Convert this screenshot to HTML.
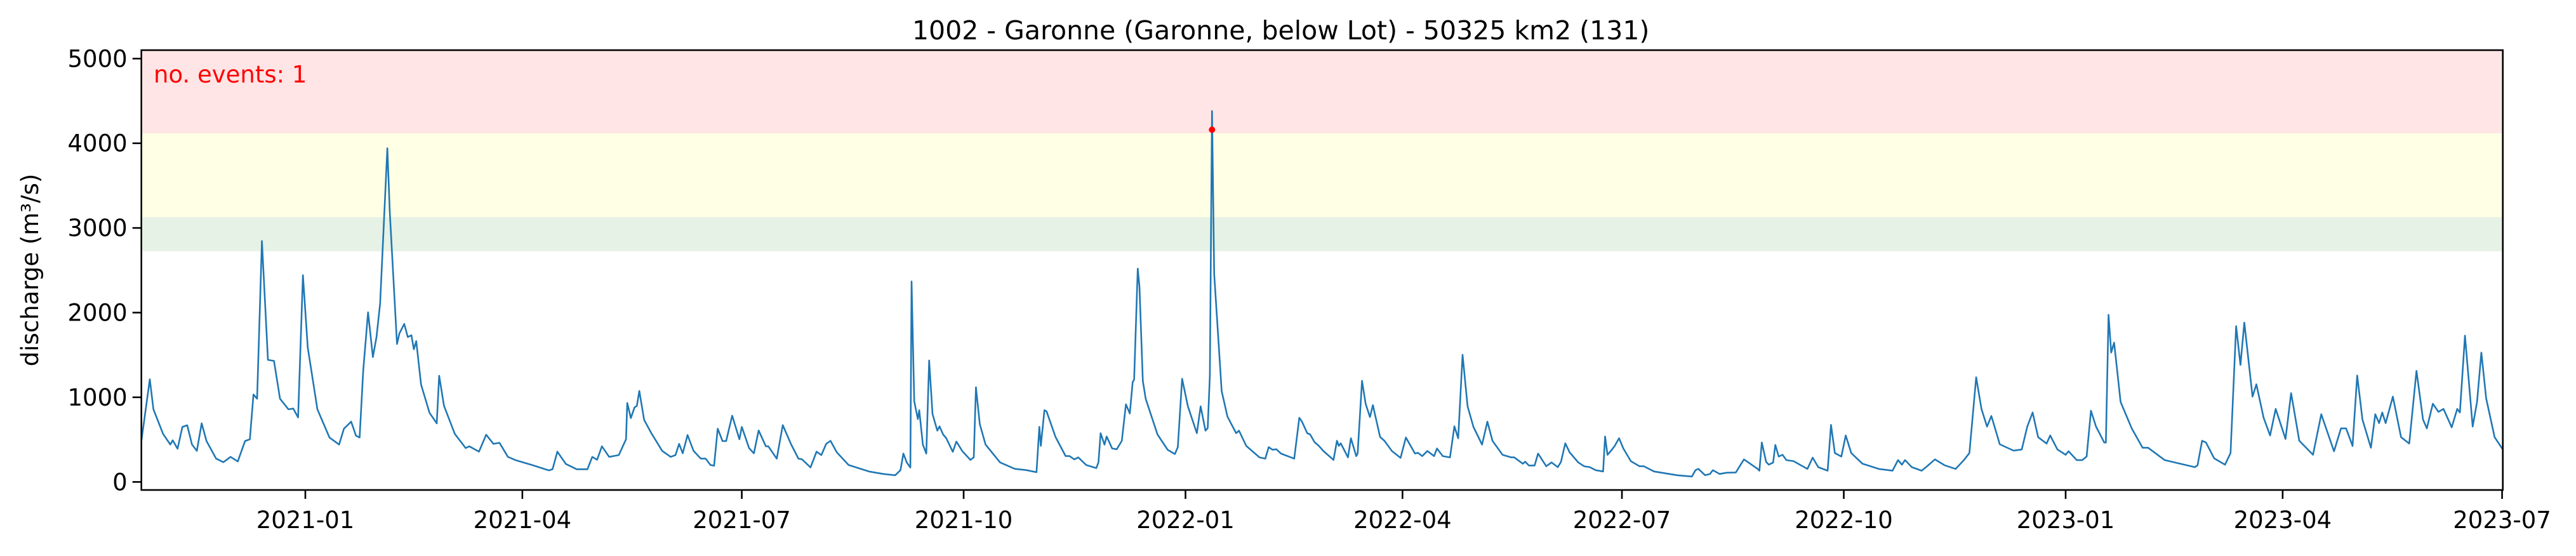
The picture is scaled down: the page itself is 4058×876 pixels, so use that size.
<!DOCTYPE html>
<html><head><meta charset="utf-8"><style>
html,body{margin:0;padding:0;background:#fff;}
svg text{font-family:"DejaVu Sans","Liberation Sans",sans-serif;}
</style></head><body>
<svg id="chart" xmlns="http://www.w3.org/2000/svg" width="4058" height="871" viewBox="0 0 4058 871">
<g id="bands"></g>
<g id="series"></g>
<g id="axes"></g>
</svg>
<script>
// ---- data (days since 2020-10-25, discharge m3/s) ----
const days = [0,3.5,5,9,12,13,15,17,19,21,23,25,27,31,34,37,40,43,45,46.5,48,50,52.5,55,57.5,61,63,65,67,69,73,78,82,84,87,89,90.5,92,94,96,97.5,99,100.5,102,103,106,107,109,110.5,112,113,114,116,119.5,122.5,123.5,125.5,130,134.5,136,140,143,146,148.5,152,155.5,162,169,170.5,172.5,176,180.5,185,187,189,191,194,198,201,201.5,203,204.5,205.5,206.5,208.5,211.5,216,219.5,221.5,223,224.5,226.5,229,232,234,236,237.5,239,241,242.5,245,248,249,252,254,256,259,260,263.5,266,269.5,272.5,274,277.5,280,282,284,285.8,288.4,293.3,301.7,307.8,312.6,314.8,316,317.4,318.9,319.4,320.5,322,322.6,324.1,325.5,326.7,328.1,330.1,331,332.5,333.8,336.5,338,340.4,343.8,345.2,346.1,347.7,350.1,356.1,362.2,367,371.2,372.4,373,374.5,375.4,379.1,383.3,384.9,386.9,388.5,391.8,396,396.9,397.8,399.4,400.3,402.6,404.5,406.6,408.3,409.9,411.1,411.7,413.2,413.9,415.3,416.5,421.4,425.6,428.6,429.8,431.6,434,437.7,439.3,441.3,442.2,443.1,444,444.9,448,450.4,454,455.2,458.2,463.7,466.1,467.5,469.1,470.7,472.6,478.1,480.2,481.3,483.5,484.7,486.5,488.3,490.2,494.4,495.8,496.6,497.4,500.4,501.6,503.8,504.4,506.2,507.7,509.5,510.7,513.7,515.5,518.6,522.2,524.4,528.2,529.4,531.2,533.3,536.1,537.3,539.7,542.7,544.5,546.1,547.9,550,552.4,556,558.2,560.3,564.5,568.1,569.3,572.9,573.9,575.4,577.8,579.2,582.6,584.8,587.4,588.7,590.5,592.3,595.9,598.3,600.7,603.1,606.2,607,608,609.8,611,612.8,614.6,617.7,621.3,623.1,627.3,637,643,644.5,645.7,648.5,650.5,651.7,654.5,657.3,661.2,664.6,670.3,671,672,673.8,674.9,676.7,677.6,679,680.6,682.2,685.2,690.9,693.1,695.4,699.3,700.7,702.3,705,706.8,709.1,713.7,720.5,726.2,728.5,730.1,731.4,734.2,738.3,740.6,743.8,747.9,752.4,755.8,758.1,760.9,763.1,765.4,767.2,770.7,776.4,779.8,782.1,784.3,786.6,790.1,791.6,794.6,798,799.2,802.6,804.9,806.7,808.5,810.6,814,814.7,815.8,816.9,818.1,820.8,825.4,829.9,832.2,839.1,851.6,852.7,854.6,856.2,859.6,864.1,866.4,868.7,870.5,872.1,875.5,877.1,880.1,882.8,885.1,889.2,891.5,894.9,900.6,904,909.3,912.2,914.3,917,918.9,921.1,924.6,926.4,928,929.3,930.7,933.7,937.1,940.5,943.5,946.2,947.8,950.3,952.6,954.7,958.1,960.4,961.5,963.6,966.8,968.6,970.4,972.4,975.9,979.3];
const discharge = [483,1212,858,567,442,492,392,650,670,442,367,692,483,275,233,296,242,483,504,1033,983,2846,1442,1430,983,858,867,762,2442,1588,858,525,442,629,712,546,525,1317,2004,1475,1712,2108,3025,3942,3192,1629,1754,1867,1712,1733,1567,1663,1150,817,692,1254,900,567,400,421,358,558,450,463,296,254,200,137,150,358,213,150,150,296,262,421,296,317,504,933,754,879,900,1075,733,575,367,296,317,450,338,554,367,275,275,200,192,629,483,483,783,504,650,400,338,608,421,421,275,671,442,275,267,171,358,317,450,486,350,200,124,94,79,139,335,230,170,2368,953,742,847,441,335,1435,802,606,657,561,516,356,477,365,260,290,1118,682,441,230,155,140,115,651,426,847,832,531,305,305,266,290,200,164,230,576,441,537,395,386,486,917,808,1179,1209,2519,2308,1194,983,561,380,329,411,1218,893,576,893,606,636,1254,4380,2459,1073,772,576,606,426,290,275,411,380,386,335,275,757,712,576,561,471,426,365,260,486,426,456,290,516,305,335,1194,923,766,907,531,486,365,284,525,335,344,305,365,305,395,305,290,657,516,1501,893,651,441,712,486,320,290,290,215,239,194,194,335,185,230,175,236,456,350,230,185,175,139,124,537,320,380,426,516,395,245,185,185,124,79,64,139,155,79,94,139,94,109,112,266,154,133,466,237,204,229,437,300,321,258,245,154,287,175,133,674,341,300,549,341,216,154,133,258,204,258,175,133,187,266,196,154,258,341,1236,862,654,779,445,370,383,654,820,529,454,549,383,321,362,258,258,300,841,654,466,466,1974,1528,1645,945,633,404,404,258,175,196,487,466,279,204,341,1840,1382,1882,1008,1153,758,549,862,508,1049,487,321,799,362,633,633,425,1257,737,404,799,695,820,695,1008,529,454,1312,737,633,924,828,862,645,862,820,1728,654,945,1528,987,529,383];
const eventDays = [444];
const eventValues = [4160];
const yTicks = [0,1000,2000,3000,4000,5000];
const xTickDays = [68,158,249,341,433,523,614,706,798,888,979];
const xTickLabels = ["2021-01","2021-04","2021-07","2021-10","2022-01","2022-04","2022-07","2022-10","2023-01","2023-04","2023-07"];
const bandLimits = [2725,3128,4118,5100];
const bandColors = ["#e5f2e5","#ffffe5","#ffe5e5"];
const bandNames = ["threshold-band-low","threshold-band-medium","threshold-band-high"];

const NS="http://www.w3.org/2000/svg";
const L=222.7,R=3942.7,T=79,B=772;
const x0=0,x1=979.3,yMin=-95,yMax=5100;
function xs(d){return L+(d-x0)/(x1-x0)*(R-L);}
function ys(v){return B-(v-yMin)/(yMax-yMin)*(B-T);}
function mk(tag,attrs,parent){const e=document.createElementNS(NS,tag);for(const k in attrs)e.setAttribute(k,attrs[k]);parent.appendChild(e);return e;}

const bands=document.getElementById('bands');
for(let i=0;i<bandColors.length;i++){
  const r=mk('rect',{x:L,y:ys(bandLimits[i+1]),width:R-L,height:ys(bandLimits[i])-ys(bandLimits[i+1]),fill:bandColors[i]},bands);
  
  
}
const series=document.getElementById('series');
let d='';
for(let i=0;i<days.length;i++){d+=(i?'L':'M')+xs(days[i]).toFixed(1)+','+ys(discharge[i]).toFixed(1);}
const line=mk('path',{d:d,fill:'none',stroke:'#1f77b4','stroke-width':2.6,'stroke-linejoin':'round'},series);


for(let i=0;i<eventDays.length;i++){
  const c=mk('circle',{cx:xs(eventDays[i]),cy:ys(eventValues[i]),r:5,fill:'#ff0000'},series);
  
  
}
const axes=document.getElementById('axes');
const frame=mk('rect',{x:L,y:T,width:R-L,height:B-T,fill:'none',stroke:'#000','stroke-width':2.6},axes);


for(const v of yTicks){
  const y=ys(v);
  const tk=mk('line',{x1:L-14,x2:L,y1:y,y2:y,stroke:'#000','stroke-width':2.6},axes);
  
  
  const t=mk('text',{x:L-22,y:y+13,'text-anchor':'end','font-size':37,fill:'#000'},axes);
  t.textContent=v;
  
  
}
for(let i=0;i<xTickDays.length;i++){
  const x=xs(xTickDays[i]);
  const tk=mk('line',{x1:x,x2:x,y1:B,y2:B+14,stroke:'#000','stroke-width':2.6},axes);
  
  
  const t=mk('text',{x:x,y:832,'text-anchor':'middle','font-size':37,fill:'#000'},axes);
  t.textContent=xTickLabels[i];
  
  
}
const yl=mk('text',{x:0,y:0,'text-anchor':'middle','font-size':37,fill:'#000',transform:'translate(60,'+((T+B)/2)+') rotate(-90)'},axes);
yl.textContent='discharge (m³/s)';


const ti=mk('text',{x:(L+R)/2-65,y:62,'text-anchor':'middle','font-size':41,fill:'#000'},axes);
ti.textContent='1002 - Garonne (Garonne, below Lot) - 50325 km2 (131)';


const ev=mk('text',{x:242,y:130,'font-size':37,fill:'#ff0000'},axes);
ev.textContent='no. events: 1';


</script>
</body></html>
